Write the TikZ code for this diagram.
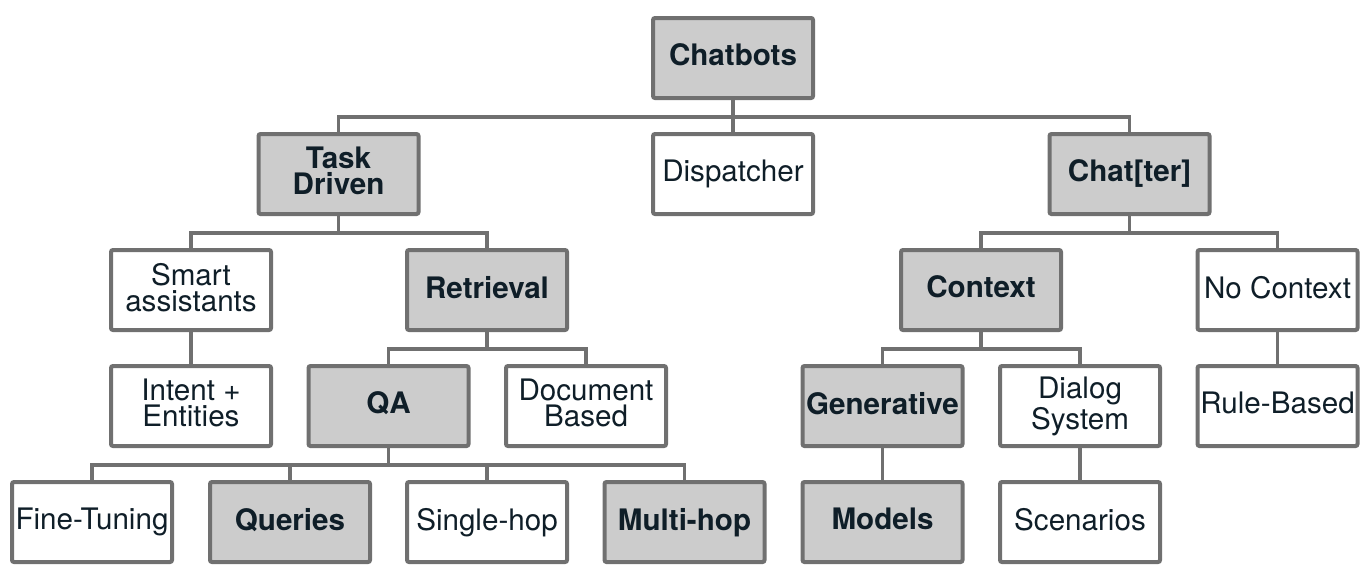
\documentclass[tikz,border=0pt]{standalone}
\usepackage{fontspec}
\setmainfont{TeX Gyre Heros}
\usetikzlibrary{positioning}
\definecolor{edgegray}{HTML}{707070}
\definecolor{boxgray}{HTML}{CCCCCC}
\definecolor{inkblue}{HTML}{0F1E28}
\tikzset{
  leaf/.style ={draw=edgegray, line width=2pt, rounded corners=1pt, fill=white,
                align=center, minimum width=80pt, minimum height=40pt,
                inner xsep=0pt, inner ysep=2pt, text=inkblue, text depth=3pt,
                font=\fontsize{14.8}{13}\selectfont},
  cat/.style  ={leaf, fill=boxgray, font=\fontsize{14.8}{13}\selectfont\bfseries},
  link/.style ={draw=edgegray, line width=1.8pt},
}

\begin{document}
\begin{tikzpicture}[x=0.5pt, y=-0.5pt]
  \useasboundingbox (0,0) rectangle (1368,579);

  % root
  \node[cat]  (chatbots)   at (733,58)     {Chatbots};

  % second level
  \node[cat]  (task)       at (338.5,174)  {Task\\Driven};
  \node[leaf] (dispatcher) at (733,174)    {Dispatcher};
  \node[cat]  (chatter)    at (1129.5,174) {Chat[ter]};

  % third level
  \node[leaf] (smart)      at (191,290)    {Smart\\assistants};
  \node[cat]  (retrieval)  at (487,290)    {Retrieval};
  \node[cat]  (context)    at (981,290)    {Context};
  \node[leaf] (nocontext)  at (1277.5,290) {No Context};

  % fourth level
  \node[leaf] (intent)     at (191,406)    {Intent +\\Entities};
  \node[cat]  (qa)         at (388.5,406)  {QA};
  \node[leaf] (docbased)   at (586,406)    {Document\\Based};
  \node[cat]  (generative) at (882.5,406)  {Generative};
  \node[leaf] (dialog)     at (1080,406)   {Dialog\\System};
  \node[leaf] (rulebased)  at (1277.5,406) {Rule-Based};

  % leaves
  \node[leaf] (finetuning) at (92,522)     {Fine-Tuning};
  \node[cat]  (queries)    at (290,522)    {Queries};
  \node[leaf] (singlehop)  at (487,522)    {Single-hop};
  \node[cat]  (multihop)   at (684.5,522)  {Multi-hop};
  \node[cat]  (models)     at (882.5,522)  {Models};
  \node[leaf] (scenarios)  at (1080,522)   {Scenarios};

  % buses (y grows downwards, so +17 is below the parent)
  \foreach \c in {task,dispatcher,chatter}
    \draw[link] (chatbots.south) -- ++(0,17) -| (\c.north);
  \foreach \c in {smart,retrieval}
    \draw[link] (task.south) -- ++(0,17) -| (\c.north);
  \foreach \c in {context,nocontext}
    \draw[link] (chatter.south) -- ++(0,17) -| (\c.north);
  \foreach \c in {qa,docbased}
    \draw[link] (retrieval.south) -- ++(0,17) -| (\c.north);
  \foreach \c in {generative,dialog}
    \draw[link] (context.south) -- ++(0,17) -| (\c.north);
  \foreach \c in {finetuning,queries,singlehop,multihop}
    \draw[link] (qa.south) -- ++(0,17) -| (\c.north);

  % single children
  \draw[link] (smart) -- (intent);
  \draw[link] (nocontext) -- (rulebased);
  \draw[link] (generative) -- (models);
  \draw[link] (dialog) -- (scenarios);
\end{tikzpicture}
\end{document}
